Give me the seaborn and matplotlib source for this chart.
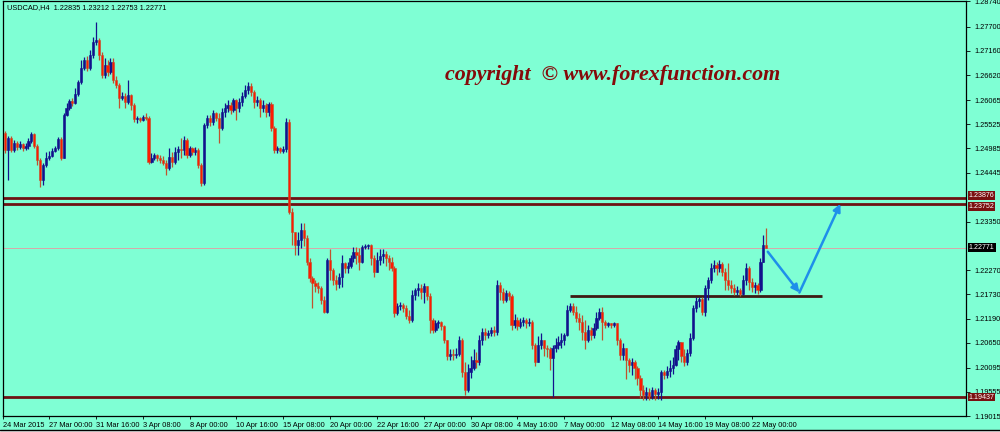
import numpy as np
import matplotlib
matplotlib.use("Agg")
import matplotlib.pyplot as plt
import matplotlib.transforms as mtransforms
from matplotlib.lines import Line2D
from matplotlib.patches import Rectangle
import seaborn as sns

# ---------------- data (USDCAD H4) ----------------
first_open = 1.2533

close = [
    1.2496, 1.2522, 1.2496, 1.2511, 1.2502, 1.2509, 1.2500, 1.2504, 1.2516, 1.2531,
    1.2504, 1.2473, 1.2429, 1.2462, 1.2478, 1.2482, 1.2493, 1.2500, 1.2520, 1.2478,
    1.2574, 1.2589, 1.2605, 1.2600, 1.2620, 1.2647, 1.2678, 1.2696, 1.2678, 1.2707,
    1.2736, 1.2741, 1.2707, 1.2663, 1.2685, 1.2670, 1.2692, 1.2652, 1.2640, 1.2611,
    1.2616, 1.2603, 1.2618, 1.2596, 1.2565, 1.2567, 1.2562, 1.2569, 1.2567, 1.2469,
    1.2478, 1.2484, 1.2478, 1.2473, 1.2466, 1.2455, 1.2480, 1.2469, 1.2491, 1.2498,
    1.2496, 1.2518, 1.2484, 1.2500, 1.2491, 1.2496, 1.2462, 1.2422, 1.2551, 1.2567,
    1.2558, 1.2578, 1.2567, 1.2545, 1.2580, 1.2589, 1.2596, 1.2585, 1.2607, 1.2589,
    1.2603, 1.2616, 1.2629, 1.2638, 1.2625, 1.2603, 1.2607, 1.2589, 1.2596, 1.2580,
    1.2598, 1.2545, 1.2496, 1.2500, 1.2493, 1.2498, 1.2558, 1.2357, 1.2313, 1.2284,
    1.2295, 1.2317, 1.2299, 1.2246, 1.2210, 1.2199, 1.2192, 1.2188, 1.2161, 1.2134,
    1.2250, 1.2228, 1.2206, 1.2197, 1.2212, 1.2243, 1.2232, 1.2237, 1.2255, 1.2268,
    1.2261, 1.2246, 1.2279, 1.2281, 1.2284, 1.2255, 1.2223, 1.2250, 1.2259, 1.2264,
    1.2255, 1.2246, 1.2232, 1.2132, 1.2148, 1.2150, 1.2143, 1.2125, 1.2116, 1.2172,
    1.2183, 1.2188, 1.2179, 1.2192, 1.2170, 1.2116, 1.2094, 1.2108, 1.2112, 1.2103,
    1.2072, 1.2036, 1.2040, 1.2038, 1.2040, 1.2072, 1.2000, 1.1960, 1.2000, 1.2009,
    1.2027, 1.2023, 1.2072, 1.2090, 1.2083, 1.2087, 1.2094, 1.2090, 1.2194, 1.2179,
    1.2161, 1.2177, 1.2170, 1.2105, 1.2116, 1.2103, 1.2112, 1.2116, 1.2108, 1.2112,
    1.2061, 1.2023, 1.2061, 1.2072, 1.2054, 1.2050, 1.2032, 1.2054, 1.2061, 1.2067,
    1.2072, 1.2083, 1.2139, 1.2148, 1.2134, 1.2121, 1.2112, 1.2090, 1.2072, 1.2094,
    1.2083, 1.2098, 1.2121, 1.2134, 1.2112, 1.2105, 1.2108, 1.2105, 1.2108, 1.2072,
    1.2038, 1.2054, 1.2027, 1.2016, 1.2023, 1.2009, 1.1987, 1.1960, 1.1949, 1.1956,
    1.1947, 1.1960, 1.1951, 1.1954, 1.2000, 1.1994, 1.2003, 1.2009, 1.2016, 1.2050,
    1.2067, 1.2036, 1.2023, 1.2041, 1.2076, 1.2143, 1.2157, 1.2163, 1.2134, 1.2188,
    1.2206, 1.2232, 1.2239, 1.2232, 1.2241, 1.2223, 1.2206, 1.2194, 1.2188, 1.2179,
    1.2183, 1.2174, 1.2206, 1.2232, 1.2201, 1.2190, 1.2194, 1.2183, 1.2246, 1.22835,
    1.22771,
]

high = [
    1.2538, 1.2527, 1.2527, 1.2518, 1.2516, 1.2516, 1.2511, 1.2511, 1.2522, 1.2536,
    1.2533, 1.2509, 1.2478, 1.2466, 1.2491, 1.2493, 1.2500, 1.2505, 1.2525, 1.2525,
    1.2578, 1.2600, 1.2609, 1.2611, 1.2634, 1.2652, 1.2696, 1.2703, 1.2705, 1.2719,
    1.2748, 1.2781, 1.2745, 1.2714, 1.2701, 1.2696, 1.2701, 1.2701, 1.2660, 1.2645,
    1.2625, 1.2623, 1.2652, 1.2620, 1.2600, 1.2571, 1.2569, 1.2574, 1.2578, 1.2571,
    1.2489, 1.2489, 1.2487, 1.2484, 1.2482, 1.2473, 1.2500, 1.2491, 1.2502, 1.2505,
    1.2522, 1.2527, 1.2522, 1.2504, 1.2502, 1.2502, 1.2500, 1.2466, 1.2556, 1.2574,
    1.2574, 1.2585, 1.2580, 1.2578, 1.2589, 1.2600, 1.2607, 1.2603, 1.2611, 1.2609,
    1.2611, 1.2625, 1.2640, 1.2647, 1.2645, 1.2629, 1.2616, 1.2611, 1.2607, 1.2600,
    1.2603, 1.2603, 1.2549, 1.2504, 1.2502, 1.2504, 1.2567, 1.2565, 1.2366, 1.2306,
    1.2313, 1.2331, 1.2333, 1.2306, 1.2255, 1.2214, 1.2206, 1.2201, 1.2192, 1.2170,
    1.2255, 1.2273, 1.2232, 1.2217, 1.2221, 1.2261, 1.2246, 1.2246, 1.2261, 1.2279,
    1.2279, 1.2277, 1.2284, 1.2286, 1.2286, 1.2286, 1.2261, 1.2268, 1.2273, 1.2273,
    1.2270, 1.2261, 1.2257, 1.2237, 1.2154, 1.2156, 1.2154, 1.2150, 1.2139, 1.2183,
    1.2188, 1.2199, 1.2197, 1.2199, 1.2181, 1.2177, 1.2121, 1.2116, 1.2116, 1.2114,
    1.2105, 1.2072, 1.2052, 1.2050, 1.2054, 1.2081, 1.2076, 1.2023, 1.2018, 1.2036,
    1.2050, 1.2045, 1.2083, 1.2098, 1.2098, 1.2094, 1.2101, 1.2103, 1.2206, 1.2201,
    1.2188, 1.2183, 1.2181, 1.2174, 1.2128, 1.2123, 1.2121, 1.2123, 1.2121, 1.2121,
    1.2116, 1.2065, 1.2079, 1.2087, 1.2072, 1.2061, 1.2056, 1.2061, 1.2076, 1.2081,
    1.2087, 1.2087, 1.2150, 1.2154, 1.2154, 1.2148, 1.2132, 1.2127, 1.2116, 1.2105,
    1.2101, 1.2110, 1.2134, 1.2143, 1.2145, 1.2116, 1.2112, 1.2110, 1.2112, 1.2110,
    1.2076, 1.2065, 1.2054, 1.2032, 1.2032, 1.2027, 1.2014, 1.1994, 1.1971, 1.1967,
    1.1963, 1.1967, 1.1965, 1.1963, 1.2005, 1.2005, 1.2014, 1.2027, 1.2034, 1.2061,
    1.2072, 1.2061, 1.2050, 1.2050, 1.2087, 1.2150, 1.2168, 1.2168, 1.2168, 1.2194,
    1.2212, 1.2243, 1.2250, 1.2246, 1.2250, 1.2246, 1.2232, 1.2243, 1.2206, 1.2197,
    1.2192, 1.2188, 1.2217, 1.2243, 1.2237, 1.2210, 1.2201, 1.2199, 1.2255, 1.2306,
    1.23212,
]

low = [
    1.2489, 1.2429, 1.2491, 1.2491, 1.2496, 1.2498, 1.2493, 1.2496, 1.2498, 1.2511,
    1.2500, 1.2462, 1.2413, 1.2417, 1.2457, 1.2473, 1.2480, 1.2491, 1.2496, 1.2473,
    1.2478, 1.2571, 1.2585, 1.2594, 1.2598, 1.2616, 1.2643, 1.2674, 1.2672, 1.2674,
    1.2701, 1.2730, 1.2696, 1.2656, 1.2656, 1.2661, 1.2665, 1.2645, 1.2634, 1.2589,
    1.2607, 1.2589, 1.2598, 1.2585, 1.2558, 1.2556, 1.2558, 1.2560, 1.2562, 1.2464,
    1.2466, 1.2473, 1.2471, 1.2466, 1.2462, 1.2440, 1.2451, 1.2457, 1.2464, 1.2473,
    1.2478, 1.2484, 1.2478, 1.2480, 1.2484, 1.2484, 1.2455, 1.2415, 1.2417, 1.2545,
    1.2549, 1.2551, 1.2560, 1.2511, 1.2540, 1.2569, 1.2580, 1.2576, 1.2580, 1.2562,
    1.2580, 1.2594, 1.2611, 1.2620, 1.2616, 1.2589, 1.2594, 1.2569, 1.2580, 1.2569,
    1.2571, 1.2538, 1.2489, 1.2489, 1.2489, 1.2489, 1.2491, 1.2353, 1.2284, 1.2261,
    1.2261, 1.2277, 1.2281, 1.2239, 1.2201, 1.2143, 1.2179, 1.2177, 1.2152, 1.2132,
    1.2132, 1.2206, 1.2194, 1.2183, 1.2188, 1.2190, 1.2221, 1.2221, 1.2232, 1.2246,
    1.2241, 1.2228, 1.2243, 1.2273, 1.2275, 1.2239, 1.2212, 1.2232, 1.2239, 1.2243,
    1.2237, 1.2228, 1.2226, 1.2123, 1.2127, 1.2139, 1.2134, 1.2118, 1.2110, 1.2112,
    1.2161, 1.2170, 1.2163, 1.2154, 1.2161, 1.2087, 1.2087, 1.2090, 1.2098, 1.2094,
    1.2065, 1.2027, 1.2027, 1.2027, 1.2032, 1.2036, 1.1989, 1.1949, 1.1954, 1.1987,
    1.2005, 1.2009, 1.2016, 1.2061, 1.2072, 1.2076, 1.2079, 1.2079, 1.2083, 1.2161,
    1.2154, 1.2156, 1.2161, 1.2094, 1.2098, 1.2094, 1.2098, 1.2103, 1.2098, 1.2103,
    1.2050, 1.2014, 1.2027, 1.2050, 1.2036, 1.2034, 1.2005, 1.1945, 1.2045, 1.2050,
    1.2054, 1.2061, 1.2079, 1.2134, 1.2127, 1.2112, 1.2094, 1.2072, 1.2050, 1.2067,
    1.2072, 1.2076, 1.2094, 1.2116, 1.2072, 1.2098, 1.2101, 1.2098, 1.2101, 1.2061,
    1.2027, 1.2027, 1.1983, 1.2000, 1.1994, 1.1983, 1.1971, 1.1942, 1.1938, 1.1938,
    1.1938, 1.1940, 1.1938, 1.1940, 1.1938, 1.1983, 1.1987, 1.1989, 1.1996, 1.2014,
    1.2027, 1.2023, 1.2014, 1.2016, 1.2036, 1.2072, 1.2134, 1.2145, 1.2127, 1.2125,
    1.2161, 1.2199, 1.2223, 1.2217, 1.2223, 1.2214, 1.2183, 1.2183, 1.2177, 1.2172,
    1.2172, 1.2170, 1.2172, 1.2194, 1.2183, 1.2179, 1.2177, 1.2174, 1.2179, 1.2246,
    1.22753,
]

date_labels = ["24 Mar 2015", "27 Mar 00:00", "31 Mar 16:00", "3 Apr 08:00", "8 Apr 00:00",
               "10 Apr 16:00", "15 Apr 08:00", "20 Apr 00:00", "22 Apr 16:00", "27 Apr 00:00",
               "30 Apr 08:00", "4 May 16:00", "7 May 00:00", "12 May 08:00", "14 May 16:00",
               "19 May 08:00", "22 May 00:00"]
bars_per_label = 16

price_ticks = [1.27700, 1.27160, 1.26620, 1.26065, 1.25525, 1.24985, 1.24445, 1.23350,
               1.22270, 1.21730, 1.21190, 1.20650, 1.20095, 1.19555, 1.19015]
price_tick_labels = ["1.27700", "1.27160", "1.26620", "1.26065", "1.25525", "1.24985", "1.24445",
                     "1.23350", "1.22270", "1.21730", "1.21190", "1.20650", "1.20095", "1.19555",
                     "1.19015"]
top_label = "1.28740"
y_range = (1.19015, 1.28274)

resistance_levels = [1.23876, 1.23752]
support_levels = [1.19437]
neckline_level = 1.21692
neckline_span = (193, 279)
bid_price = 1.22771

arrow_bars = [260.5, 271.3, 285.3]
arrow_prices = [1.2268, 1.2177, 1.2375]

header = "USDCAD,H4  1.22835 1.23212 1.22753 1.22771"
watermark = "copyright  \u00a9 www.forexfunction.com"

# ---------------- style ----------------
BG = "#7FFFD4"
BULL = "#12128C"
BEAR = "#FF1A00"
BEAR_EDGE = "#C0522E"
LEVEL = "#6E1212"
ARROW = "#1E8FEA"

sns.set_theme(style="white", rc={"axes.facecolor": BG, "figure.facecolor": BG,
                                 "axes.edgecolor": "black"})
plt.rcParams["font.family"] = ["Liberation Sans", "DejaVu Sans"]

fig = plt.figure(figsize=(10, 4.32), dpi=100)
ax = fig.add_axes([0.003, 1 - 416 / 432, 0.963, 415 / 432])

c = np.array(close)
o = np.r_[first_open, c[:-1]]
h = np.maximum(np.array(high), np.maximum(o, c))
l = np.minimum(np.array(low), np.minimum(o, c))
x = np.arange(len(c))
up = c >= o
dn = ~up

ax.vlines(x[up], l[up], h[up], color=BULL, lw=0.9, zorder=3)
ax.vlines(x[dn], l[dn], h[dn], color=BEAR_EDGE, lw=0.9, zorder=3)
ax.bar(x[up], (c - o)[up], bottom=o[up], width=0.75, color=BULL, edgecolor=BULL, lw=0.4, zorder=4)
ax.bar(x[dn], (o - c)[dn], bottom=c[dn], width=0.75, color=BEAR, edgecolor=BEAR_EDGE, lw=0.4, zorder=4)

# levels
for lv in resistance_levels + support_levels:
    ax.axhline(lv, color=LEVEL, lw=2.0, zorder=2)
ax.hlines(neckline_level, neckline_span[0], neckline_span[1], color="#3E1A12", lw=2.0, zorder=2)
ax.axhline(bid_price, color="#D7A8A8", lw=0.7, zorder=1)

# projected path arrows
for i in range(len(arrow_bars) - 1):
    ax.annotate("", xy=(arrow_bars[i + 1], arrow_prices[i + 1]),
                xytext=(arrow_bars[i], arrow_prices[i]),
                arrowprops=dict(arrowstyle="-|>", color=ARROW, lw=1.8,
                                mutation_scale=11, shrinkA=0, shrinkB=0), zorder=6)

ax.set_xlim(-0.7, 328.2)
ax.set_ylim(*y_range)

# y axis on the right
ax.yaxis.tick_right()
ax.set_yticks(price_ticks + [y_range[1]])
ax.set_yticklabels(price_tick_labels + [top_label])
ax.tick_params(axis="y", direction="out", length=3, width=0.6, pad=3, labelsize=5.3,
               colors="black", right=True, left=False)

# x axis dates
xt = [bars_per_label * k - 1 for k in range(len(date_labels))]
xt[0] = -0.6
ax.set_xticks(xt)
ax.set_xticklabels(date_labels, ha="left")
ax.tick_params(axis="x", direction="out", length=2.5, width=0.6, pad=1.5, labelsize=5.3,
               colors="black", bottom=True)

for sp in ax.spines.values():
    sp.set_color("black")
    sp.set_linewidth(0.9)

# boxed price labels on the right (stacked labels nudged apart as in the terminal)
trans = mtransforms.blended_transform_factory(ax.transAxes, ax.transData)
label_nudge = {1.23876: 2.0, 1.23752: -2.0, 1.19437: 0.0}
for lv in resistance_levels + support_levels:
    ax.annotate(f"{lv:.5f}", xy=(1.003, lv), xycoords=trans,
                xytext=(0, label_nudge[lv]), textcoords="offset points",
                ha="left", va="center", fontsize=5.1, color="white",
                annotation_clip=False, zorder=10,
                bbox=dict(boxstyle="square,pad=0.1", fc="#7A1010", ec="none"))
ax.text(1.003, bid_price, f"{bid_price:.5f}", transform=trans, ha="left", va="center",
        fontsize=5.1, color="white", clip_on=False, zorder=10,
        bbox=dict(boxstyle="square,pad=0.15", fc="black", ec="none"))

# texts
fig.text(0.007, 1 - 8 / 432, header, fontsize=5.3, va="center", ha="left", color="black")
fig.text(0.445, 1 - 75 / 432, watermark, fontsize=15.8, fontfamily="Liberation Serif",
         fontstyle="italic", fontweight="bold", color="#850A0A", va="center", ha="left")

# bottom status strip
fig.add_artist(Rectangle((0, 0), 1, 2 / 432, transform=fig.transFigure, fc="#E4E4E4",
                         ec="none", zorder=0))
fig.add_artist(Line2D([0, 1], [2.5 / 432, 2.5 / 432], transform=fig.transFigure,
                      color="black", lw=1.0))

fig.savefig("out.png", dpi=100, facecolor=BG)
